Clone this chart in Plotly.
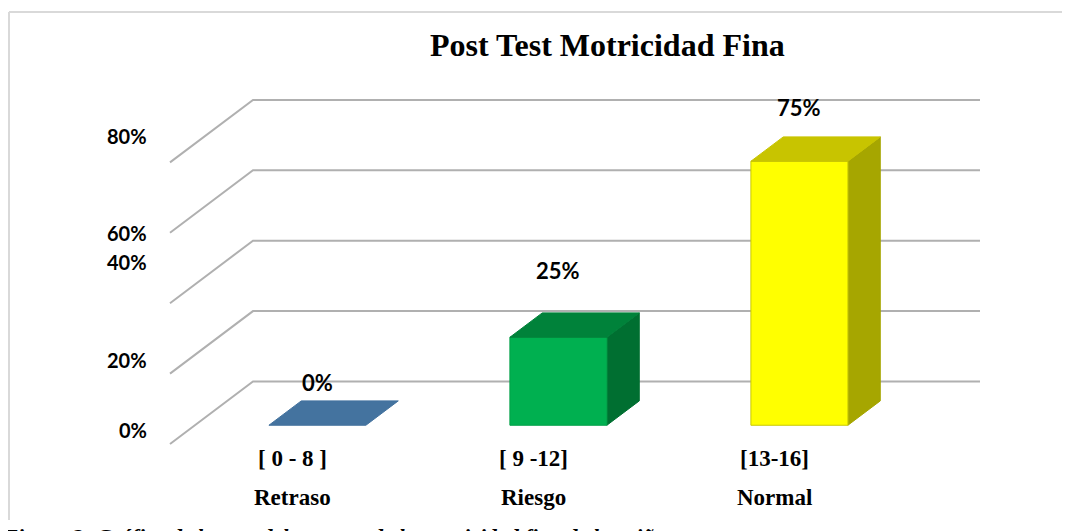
import plotly.graph_objects as go

# ---------------- data ----------------
categories = ["[ 0 - 8 ]", "[ 9 -12]", "[13-16]"]
levels = ["Retraso", "Riesgo", "Normal"]
values = [0, 25, 75]                       # percent
value_labels = ["0%", "25%", "75%"]
tick_values = [0, 20, 40, 60, 80]
tick_labels = ["0%", "20%", "40%", "60%", "80%"]
title_text = "Post Test Motricidad Fina"
caption_text = "Figura 2: Gráfico de barras del post test de la motricidad fina de los niños"

# ---------------- style / layout constants (screen pixels) ----------------
W, H = 1070, 531
OFF = 8                                   # page body margin
X0_PX, X_STEP_PX = 292.5, 241.0           # category spacing in pixels
Y0_PX, Y_PER_PCT = 444.0, 3.52            # pixels per percent (front plane)
DX = 83.0 / X_STEP_PX                     # full depth in x units
DY = 62.5 / Y_PER_PCT                     # full depth in y units
HW = 48.5 / X_STEP_PX                     # half bar width
F0, F1 = 0.30, 0.69                       # bar depth span (fraction of floor depth)
GRID_LEFT = (170 - X0_PX) / X_STEP_PX
GRID_RIGHT = (980 - X0_PX) / X_STEP_PX

front_colors = ["#44739F", "#00B050", "#FFFF00"]
top_colors = ["#44739F", "#00823A", "#C8C400"]
side_colors = ["#2F5577", "#006F31", "#A6A600"]
edge_colors = ["#44739F", "#00A048", "#C9C900"]
label_gap_px = [43, 67, 54]
tick_label_px_y = [430, 360, 262, 233, 136]


def px(sx):
    return (sx - OFF) / W


def py(sy):
    return 1 - (sy - OFF) / H


xr = [(OFF - X0_PX) / X_STEP_PX, (OFF + W - X0_PX) / X_STEP_PX]
yr = [(Y0_PX - (OFF + H)) / Y_PER_PCT, (Y0_PX - OFF) / Y_PER_PCT]

fig = go.Figure()

# gridlines: diagonal side wall + back wall
for v in tick_values:
    fig.add_trace(go.Scatter(
        x=[GRID_LEFT, GRID_LEFT + DX, GRID_RIGHT],
        y=[v, v + DY, v + DY],
        mode="lines", line=dict(color="#B0B0B0", width=2),
        hoverinfo="skip", showlegend=False))


def poly(xs, ys, color, edge):
    fig.add_trace(go.Scatter(
        x=xs + [xs[0]], y=ys + [ys[0]], mode="lines", fill="toself",
        fillcolor=color, line=dict(color=edge, width=1),
        hoverinfo="skip", showlegend=False))


for i, v in enumerate(values):
    cx = i + F0 * DX
    by = F0 * DY
    ddx = (F1 - F0) * DX
    ddy = (F1 - F0) * DY
    l, r = cx - HW, cx + HW
    if v > 0:
        # side face
        poly([r, r + ddx, r + ddx, r], [by, by + ddy, by + v + ddy, by + v],
             side_colors[i], side_colors[i])
        # front face
        poly([l, r, r, l], [by, by, by + v, by + v], front_colors[i], edge_colors[i])
    # top face
    poly([l, r, r + ddx, l + ddx], [by + v, by + v, by + v + ddy, by + v + ddy],
         top_colors[i], top_colors[i])
    # value label
    fig.add_annotation(x=cx, y=by + v + label_gap_px[i] / Y_PER_PCT,
                       text="<b>%s</b>" % value_labels[i],
                       showarrow=False, xref="x", yref="y", xanchor="center", yanchor="middle",
                       font=dict(family="Lato", size=22, color="#000000"))
    # category labels
    fig.add_annotation(x=i, y=(Y0_PX - 458) / Y_PER_PCT, text="<b>%s</b>" % categories[i],
                       showarrow=False, xref="x", yref="y", xanchor="center", yanchor="middle",
                       font=dict(family="Liberation Serif", size=23, color="#000000"))
    fig.add_annotation(x=i, y=(Y0_PX - 497) / Y_PER_PCT, text="<b>%s</b>" % levels[i],
                       showarrow=False, xref="x", yref="y", xanchor="center", yanchor="middle",
                       font=dict(family="Liberation Serif", size=23, color="#000000"))

# tick labels (placed as in the reference)
for lab, ty in zip(tick_labels, tick_label_px_y):
    fig.add_annotation(x=px(149), y=py(ty), text="<b>%s</b>" % lab, xref="paper", yref="paper",
                       xanchor="right", yanchor="middle", showarrow=False,
                       font=dict(family="Lato", size=20, color="#000000"))

# title
fig.add_annotation(x=px(607), y=py(45), text="<b>%s</b>" % title_text, xref="paper", yref="paper",
                   xanchor="center", yanchor="middle", showarrow=False,
                   font=dict(family="Liberation Serif", size=32, color="#000000"))

# caption (mostly clipped at the bottom edge as in the reference)
fig.add_annotation(x=px(0), y=py(522), text="<b><i>%s</i></b>" % caption_text,
                   xref="paper", yref="paper",
                   xanchor="left", yanchor="top", showarrow=False,
                   font=dict(family="Liberation Serif", size=22, color="#000000"))

# outer frame
fig.add_shape(type="line", xref="paper", yref="paper", x0=px(9), x1=1, y0=py(12), y1=py(12),
              line=dict(color="#D9D9D9", width=2))
fig.add_shape(type="line", xref="paper", yref="paper", x0=px(9), x1=px(9), y0=py(12), y1=py(520),
              line=dict(color="#D9D9D9", width=2))

fig.update_layout(
    width=W, height=H, margin=dict(l=0, r=0, t=0, b=0),
    paper_bgcolor="white", plot_bgcolor="white",
    xaxis=dict(range=xr, visible=False, fixedrange=True),
    yaxis=dict(range=yr, visible=False, fixedrange=True),
    showlegend=False,
)

fig.write_html("out.html")
